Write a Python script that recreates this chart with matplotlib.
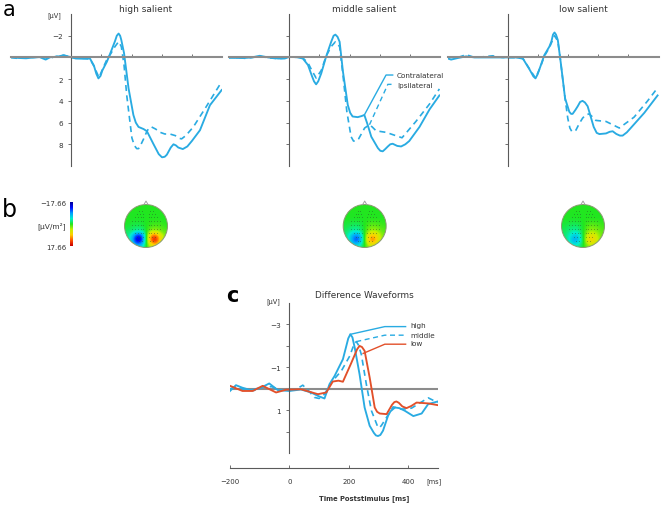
import matplotlib
matplotlib.use("Agg")
import matplotlib.pyplot as plt
import numpy as np
from matplotlib.colors import LinearSegmentedColormap
from matplotlib.patches import Circle

W, H = 662, 506
BLUE = "#29abe2"
RED = "#e2502a"
AXIS = "#5a5a5a"
ZERO = "#8c8c8c"
TEXT = "#333333"
DASH = (0, (3.6, 2.6))
LIMIT = 17.66

# panel a, values: time in ms, amplitude in microvolt
high_con_t = [-200, -175, -150, -130, -105, -85, -70, -50, -25, -5, 15, 40, 62, 75, 83, 90, 97, 103, 118, 129, 145, 151, 157, 162, 166, 175, 190, 206, 214, 223, 240, 251, 273, 290, 301, 310, 317, 330, 339, 347, 355, 370, 385, 400, 427, 460, 499]
high_con_v = [0.0, 0.05, 0.08, 0.02, -0.03, 0.2, -0.02, -0.05, -0.2, -0.05, 0.1, 0.12, 0.1, 0.75, 1.5, 1.93, 1.7, 1.2, 0.4, -0.35, -1.5, -2.0, -2.2, -2.0, -1.6, -0.4, 2.85, 5.3, 6.0, 6.4, 6.6, 6.8, 8.0, 8.9, 9.2, 9.15, 8.96, 8.3, 8.0, 8.1, 8.3, 8.44, 8.2, 7.7, 6.7, 4.4, 3.0]
high_ips_t = [-200, -175, -150, -125, -100, -75, -50, -25, 0, 30, 62, 75, 92, 105, 118, 130, 145, 157, 166, 175, 184, 201, 209, 217, 223, 228, 240, 251, 258, 266, 280, 295, 310, 328, 345, 358, 366, 380, 405, 444, 493]
high_ips_v = [0.0, 0.1, 0.0, 0.0, -0.05, 0.1, -0.1, -0.2, 0.0, 0.05, 0.15, 0.8, 1.85, 1.0, 0.2, -0.3, -1.0, -1.45, -1.0, 0.7, 3.5, 7.4, 8.1, 8.4, 8.4, 8.2, 7.5, 6.8, 6.5, 6.4, 6.6, 6.9, 7.05, 7.06, 7.2, 7.45, 7.5, 7.2, 6.4, 4.7, 2.5]

mid_con_t = [-200, -175, -148, -125, -98, -70, -37, -15, 0, 25, 45, 62, 75, 82, 89, 96, 106, 122, 139, 147, 153, 160, 167, 178, 194, 202, 210, 227, 240, 249, 260, 272, 294, 302, 310, 318, 327, 335, 343, 358, 371, 385, 398, 432, 465, 498]
mid_con_v = [0.0, 0.05, 0.05, 0.0, -0.15, 0.0, 0.1, 0.1, -0.05, -0.02, 0.1, 0.7, 1.7, 2.2, 2.48, 2.2, 1.47, -0.06, -1.44, -2.0, -2.1, -1.9, -1.44, 1.3, 4.37, 5.1, 5.44, 5.5, 5.4, 5.3, 6.2, 7.3, 8.35, 8.6, 8.65, 8.45, 8.2, 8.0, 7.95, 8.15, 8.2, 8.0, 7.7, 6.4, 4.8, 3.5]
mid_ips_t = [-200, -175, -148, -120, -98, -70, -37, -10, 10, 45, 62, 75, 89, 106, 122, 139, 153, 167, 178, 191, 205, 213, 222, 230, 238, 250, 266, 275, 288, 321, 374, 420, 465, 498]
mid_ips_v = [0.05, 0.0, 0.08, 0.0, -0.1, 0.03, 0.12, 0.05, -0.05, 0.05, 0.5, 1.2, 1.9, 1.2, -0.1, -1.0, -1.44, -1.0, 1.6, 5.0, 7.3, 7.7, 7.7, 7.5, 7.1, 6.5, 6.2, 6.4, 6.76, 6.9, 7.4, 5.9, 4.3, 2.9]

low_con_t = [-199, -188, -165, -138, -110, -80, -50, -20, 0, 25, 50, 72, 85, 92, 99, 108, 121, 138, 145, 150, 155, 160, 166, 177, 190, 204, 210, 215, 224, 232, 240, 248, 256, 265, 285, 295, 304, 326, 338, 348, 360, 372, 381, 395, 408, 453, 497]
low_con_v = [0.1, 0.2, 0.05, -0.1, 0.0, 0.0, 0.0, 0.0, 0.0, 0.0, 0.1, 1.1, 1.75, 1.93, 1.55, 0.85, -0.2, -1.0, -1.5, -2.1, -2.3, -2.1, -1.6, 0.76, 3.76, 5.0, 5.2, 5.2, 4.85, 4.5, 4.1, 4.0, 4.15, 4.5, 6.4, 6.95, 7.06, 7.0, 6.85, 6.8, 7.05, 7.2, 7.2, 6.9, 6.5, 5.1, 3.5]
low_ips_t = [-199, -180, -160, -138, -110, -85, -50, -20, 0, 25, 50, 72, 92, 108, 121, 138, 155, 166, 174, 190, 199, 206, 212, 219, 226, 237, 248, 258, 270, 280, 292, 326, 370, 419, 464, 497]
low_ips_v = [0.0, 0.0, -0.05, -0.25, 0.0, -0.05, -0.15, 0.0, 0.02, 0.02, 0.1, 1.05, 1.9, 0.9, -0.1, -0.9, -2.0, -1.5, 0.1, 3.76, 5.6, 6.5, 6.8, 6.85, 6.7, 6.1, 5.6, 5.3, 5.2, 5.45, 5.8, 5.9, 6.5, 5.5, 4.0, 2.8]

# leader lines of the legend in the middle panel
lead_con_t = [249, 321, 343]
lead_con_v = [5.3, 1.62, 1.62]
lead_ips_t = [266, 327, 343]
lead_ips_v = [6.2, 2.48, 2.48]

# panel c
diff_high_t = [-200, -180, -158, -130, -96, -68, -39, 0, 39, 73, 96, 118, 135, 152, 180, 198, 205, 212, 220, 236, 253, 270, 284, 291, 298, 306, 315, 332, 340, 355, 370, 388, 417, 445, 467, 499]
diff_high_v = [0.1, -0.17, -0.05, 0.06, -0.05, -0.25, 0.06, 0.1, 0.03, 0.17, 0.33, 0.45, -0.22, -0.6, -1.38, -2.35, -2.54, -2.4, -1.9, -0.68, 0.87, 1.72, 2.05, 2.17, 2.2, 2.15, 1.95, 1.25, 1.05, 0.87, 0.9, 1.02, 1.27, 1.15, 0.71, 0.59]
diff_mid_t = [-200, -180, -150, -120, -90, -60, -30, 0, 25, 45, 65, 84, 100, 118, 141, 175, 203, 218, 225, 232, 242, 259, 276, 298, 304, 310, 327, 349, 377, 411, 467, 499]
diff_mid_v = [0.0, -0.1, 0.05, 0.08, -0.08, -0.1, 0.05, 0.08, 0.0, -0.17, 0.1, 0.4, 0.45, 0.25, -0.3, -0.84, -1.53, -2.1, -2.2, -2.05, -1.6, -0.2, 1.02, 1.8, 1.8, 1.7, 1.33, 0.84, 0.95, 0.9, 0.42, 0.64]
diff_low_t = [-200, -158, -124, -90, -45, -11, 39, 96, 124, 146, 165, 180, 208, 228, 236, 244, 253, 270, 287, 295, 304, 327, 345, 353, 360, 368, 380, 394, 410, 428, 467, 499]
diff_low_v = [-0.14, 0.1, 0.1, -0.14, 0.17, 0.04, 0.02, 0.25, 0.17, -0.34, -0.38, -0.33, -1.2, -1.85, -2.0, -1.95, -1.77, -0.53, 0.87, 1.07, 1.15, 1.18, 0.75, 0.62, 0.59, 0.65, 0.82, 0.9, 0.8, 0.64, 0.68, 0.76]

lead_high_t = [205, 321, 391]
lead_high_v = [-2.54, -2.9, -2.9]
lead_mid_t = [225, 321, 391]
lead_mid_v = [-2.2, -2.5, -2.5]
lead_low_t = [248, 321, 391]
lead_low_v = [-1.65, -2.08, -2.08]

# scalp maps, fraction of the colour limit on a 9x9 grid, front at the top
map_high = [
    [0, 0, 0, 0, 0, 0, 0, 0, 0],
    [0, 0, 0, 0, 0, 0, 0, 0, 0],
    [0, 0, 0, 0, 0, 0, 0, 0, 0],
    [0, -.02, -.03, -.02, 0, .02, .03, .02, 0],
    [-.03, -.06, -.08, -.06, 0, .06, .08, .06, .03],
    [-.08, -.12, -.2, -.2, 0, .2, .2, .12, .08],
    [-.12, -.35, -.85, -.75, 0, .75, .85, .35, .12],
    [-.1, -.4, -.95, -.8, 0, .8, .95, .4, .1],
    [-.05, -.15, -.4, -.3, 0, .3, .4, .15, .05],
]
map_mid = [
    [0, 0, 0, 0, 0, 0, 0, 0, 0],
    [0, 0, 0, 0, 0, 0, 0, 0, 0],
    [0, 0, 0, 0, 0, 0, 0, 0, 0],
    [-.02, -.03, -.04, -.03, 0, .03, .04, .03, .02],
    [-.05, -.08, -.12, -.1, 0, .1, .12, .08, .05],
    [-.08, -.16, -.22, -.18, 0, .18, .22, .16, .08],
    [-.12, -.32, -.62, -.55, 0, .55, .62, .32, .12],
    [-.1, -.32, -.7, -.58, 0, .58, .7, .32, .1],
    [-.05, -.12, -.28, -.2, 0, .2, .28, .12, .05],
]
map_low = [
    [0, 0, 0, 0, 0, 0, 0, 0, 0],
    [0, 0, 0, 0, 0, 0, 0, 0, 0],
    [0, 0, 0, 0, 0, 0, 0, 0, 0],
    [-.02, -.03, -.04, -.03, 0, .03, .04, .03, .02],
    [-.05, -.08, -.12, -.1, 0, .1, .12, .08, .05],
    [-.08, -.14, -.2, -.16, 0, .16, .2, .14, .08],
    [-.1, -.22, -.42, -.38, 0, .38, .42, .22, .1],
    [-.08, -.24, -.52, -.42, 0, .42, .52, .24, .08],
    [-.05, -.12, -.2, -.15, 0, .15, .2, .12, .05],
]

# electrode rows in head units
dot_rows_y = [-.72, -.58, -.4, -.22, -.05, .12, .32, .5, .68]
dot_rows_x = [
    [.2, .32],
    [.15, .3, .42],
    [.12, .25, .38, .52],
    [.12, .25, .38, .52, .65],
    [.12, .25, .38, .52, .65],
    [.12, .25, .38, .52, .65],
    [.12, .25, .38, .52],
    [.15, .3, .42],
    [.2, .32],
]

rainbow = LinearSegmentedColormap.from_list(
    "scalp",
    ["#00009a", "#0010ff", "#00a0ff", "#00f0d0", "#20e620", "#c8f000", "#ffd000", "#ff5000", "#c80000"],
)

plt.rcParams["font.family"] = ["DejaVu Sans"]
fig = plt.figure(figsize=(W / 100, H / 100), dpi=100)


def px_axes(x0, y0, x1, y1):
    return fig.add_axes([x0 / W, 1 - y1 / H, (x1 - x0) / W, (y1 - y0) / H])


def label(x, y, s, size=5.2, ha="center", va="center", **kw):
    fig.text(x / W, 1 - y / H, s, fontsize=size, ha=ha, va=va, color=kw.pop("color", TEXT), **kw)


def erp_panel(x0, con_t, con_v, ips_t, ips_v, labelled):
    ax = px_axes(x0, 15, x0 + 211, 167)
    ax.patch.set_alpha(0)
    ax.set_xlim(-200, 500)
    ax.set_ylim(10, -4)
    for side in ("top", "right"):
        ax.spines[side].set_visible(False)
    ax.spines["left"].set_position(("data", 0))
    ax.spines["left"].set_color(AXIS)
    ax.spines["bottom"].set_position(("data", 0))
    ax.spines["bottom"].set_color(ZERO)
    ax.spines["bottom"].set_linewidth(1.5)
    ax.set_xticks([100, 200, 300, 400])
    ax.set_xticklabels([])
    ax.tick_params(axis="x", direction="in", length=2, width=0.6, color=AXIS)
    ax.set_yticks([-2, 2, 4, 6, 8])
    ax.set_yticklabels(["\u22122", "2", "4", "6", "8"] if labelled else [])
    ax.tick_params(axis="y", direction="out", length=2, width=0.6, color=AXIS, labelsize=5.2, labelcolor=TEXT, pad=4)
    ax.plot(ips_t, ips_v, color=BLUE, lw=1.2, ls=DASH)
    ax.plot(con_t, con_v, color=BLUE, lw=1.35)
    return ax


def scalp_map(cx, cy, grid):
    r = 21.5
    pad = 5
    ax = px_axes(cx - r - pad, cy - r - pad, cx + r + pad, cy + r + pad)
    lim = (r + pad) / r
    ax.set_xlim(-lim, lim)
    ax.set_ylim(lim, -lim)
    ax.axis("off")
    im = ax.imshow(np.array(grid) * LIMIT, cmap=rainbow, vmin=-LIMIT, vmax=LIMIT,
                   extent=[-1, 1, 1, -1], interpolation="bicubic", zorder=1)
    im.set_clip_path(Circle((0, 0), 1, transform=ax.transData))
    ax.add_patch(Circle((0, 0), 1, fc="none", ec="#8a9a70", lw=0.7, zorder=3))
    ax.plot([-.1, 0, .1], [-.99, -1.16, -.99], color="#a0a0a0", lw=0.7, zorder=3)
    for y, xs in zip(dot_rows_y, dot_rows_x):
        xs = np.array(xs)
        ax.scatter(np.r_[xs, -xs], [y] * (2 * len(xs)), s=0.6, c="#2a5a2a", alpha=0.55, lw=0, zorder=2)


erp_panel(11, high_con_t, high_con_v, high_ips_t, high_ips_v, True)
ax_mid = erp_panel(229, mid_con_t, mid_con_v, mid_ips_t, mid_ips_v, False)
erp_panel(447.5, low_con_t, low_con_v, low_ips_t, low_ips_v, False)

ax_mid.plot(lead_con_t, lead_con_v, color=BLUE, lw=1.0, clip_on=False)
ax_mid.plot(lead_ips_t, lead_ips_v, color=BLUE, lw=1.0, ls=DASH, clip_on=False)
label(397, 76.5, "Contralateral", 5.2, ha="left")
label(397, 86, "Ipsilateral", 5.2, ha="left")

label(146, 10, "high salient", 6.5)
label(364, 10, "middle salient", 6.5)
label(583, 10, "low salient", 6.5)
label(54, 16, "[\u00b5V]", 4.8)

label(3, 15.5, "a", 15, ha="left", va="baseline", color="black")
label(2, 217, "b", 17, ha="left", va="baseline", color="black")
label(226, 302, "c", 15, ha="left", va="baseline", color="black", fontweight="bold")

# colour scale
cbar = px_axes(70, 203, 72.5, 247)
cbar.imshow(np.linspace(-1, 1, 100)[:, None], cmap=rainbow, aspect="auto")
cbar.axis("off")
label(66, 204.5, "\u221217.66", 5, ha="right")
label(66, 226, "[\u00b5V/m\u00b2]", 5.4, ha="right")
label(66, 248, "17.66", 5, ha="right")

scalp_map(146, 227, map_high)
scalp_map(364.7, 227, map_mid)
scalp_map(583, 227, map_low)

# difference waves
ax = px_axes(230, 304, 438, 469)
ax.patch.set_alpha(0)
ax.set_xlim(-200, 500)
ax.set_ylim(3.69, -4)
for side in ("top", "right"):
    ax.spines[side].set_visible(False)
ax.spines["left"].set_position(("data", 0))
ax.spines["left"].set_bounds(-4, 3)
ax.spines["left"].set_color(AXIS)
ax.spines["bottom"].set_color(AXIS)
ax.axhline(0, color=ZERO, lw=1.5, zorder=1)
ax.set_yticks([-3, -2, -1, 1, 2])
ax.set_yticklabels(["\u22123", "", "\u22121", "1", ""])
ax.tick_params(axis="y", direction="out", length=2, width=0.6, color=AXIS, labelsize=5.2, labelcolor=TEXT, pad=4)
ax.set_xticks([-200, 0, 200, 400])
ax.set_xticklabels(["\u2212200", "0", "200", "400"])
ax.tick_params(axis="x", direction="in", length=2, width=0.6, color=AXIS, labelsize=5, labelcolor=TEXT, pad=7)
ax.plot(diff_mid_t, diff_mid_v, color=BLUE, lw=1.2, ls=DASH)
ax.plot(diff_high_t, diff_high_v, color=BLUE, lw=1.35)
ax.plot(diff_low_t, diff_low_v, color=RED, lw=1.35)
ax.plot(lead_high_t, lead_high_v, color=BLUE, lw=1.0)
ax.plot(lead_mid_t, lead_mid_v, color=BLUE, lw=1.0, ls=DASH)
ax.plot(lead_low_t, lead_low_v, color=RED, lw=1.0)

label(410.5, 326, "high", 5.2, ha="left")
label(410.5, 336, "middle", 5.2, ha="left")
label(410.5, 344.5, "low", 5.2, ha="left")
label(364, 296, "Difference Waveforms", 6.4)
label(273, 302, "[\u00b5V]", 4.8)
label(434, 482, "[ms]", 4.8)
label(364, 499, "Time Poststimulus [ms]", 4.9, fontweight="bold")

fig.savefig("out.png", dpi=100)
